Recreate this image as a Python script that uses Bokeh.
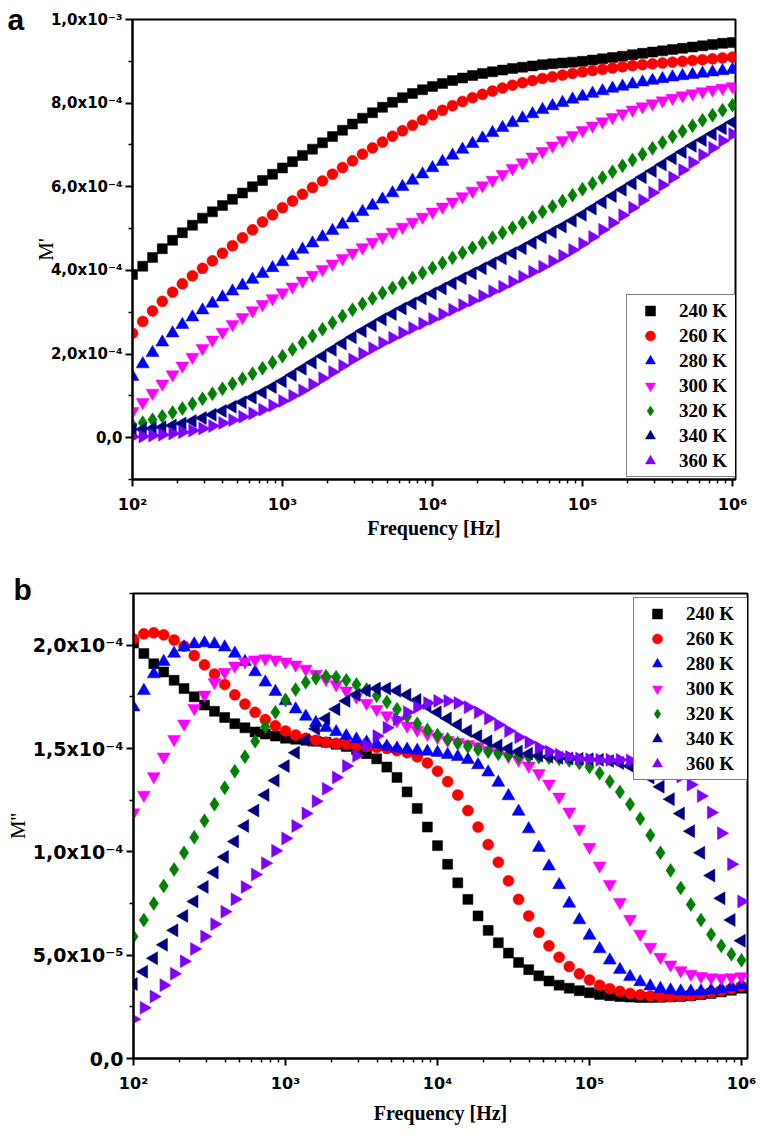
import math
from bokeh.plotting import figure
from bokeh.models import ColumnDataSource, FixedTicker, Legend, LegendItem
from bokeh.embed import file_html
from bokeh.resources import INLINE

# ---------------- data ----------------
FREQ = [100, 117, 136, 158, 185, 215, 251, 293, 341, 398, 464, 541, 631, 736, 858,
        1000, 1166, 1359, 1585, 1848, 2154, 2512, 2929, 3415, 3981, 4642, 5412, 6310, 7356, 8577,
        10000, 11659, 13594, 15849, 18478, 21544, 25119, 29286, 34146, 39811, 46416, 54117, 63096, 73564, 85770,
        100000, 116591, 135936, 158489, 184785, 215443, 251189, 292864, 341455, 398107, 464159, 541170, 630957, 735642, 857696,
        1000000]

TEMPS = ["240 K", "260 K", "280 K", "300 K", "320 K", "340 K", "360 K"]

# M' (units of 1e-4)
MA_240 = [3.90, 4.10, 4.31, 4.52, 4.72, 4.90, 5.08, 5.25, 5.40, 5.55, 5.70, 5.85, 6.00, 6.15, 6.30, 6.45, 6.60, 6.75, 6.90, 7.05,
          7.20, 7.35, 7.50, 7.64, 7.77, 7.90, 8.02, 8.13, 8.23, 8.32, 8.40, 8.47, 8.54, 8.60, 8.66, 8.71, 8.75, 8.79, 8.83, 8.86,
          8.89, 8.92, 8.94, 8.96, 8.98, 9.00, 9.03, 9.06, 9.09, 9.12, 9.16, 9.19, 9.22, 9.25, 9.28, 9.31, 9.34, 9.37, 9.40, 9.43, 9.45]
MA_260 = [2.50, 2.78, 3.03, 3.26, 3.48, 3.68, 3.87, 4.05, 4.23, 4.41, 4.59, 4.78, 4.97, 5.16, 5.33, 5.50, 5.66, 5.82, 5.98, 6.14,
          6.30, 6.46, 6.62, 6.78, 6.93, 7.07, 7.21, 7.34, 7.47, 7.60, 7.72, 7.83, 7.94, 8.04, 8.13, 8.21, 8.29, 8.36, 8.43, 8.49,
          8.54, 8.59, 8.63, 8.67, 8.71, 8.75, 8.78, 8.81, 8.84, 8.87, 8.90, 8.92, 8.94, 8.96, 8.98, 9.00, 9.02, 9.04, 9.06, 9.08, 9.10]
MA_280 = [1.46, 1.76, 2.03, 2.28, 2.50, 2.70, 2.88, 3.05, 3.21, 3.36, 3.50, 3.64, 3.78, 3.92, 4.06, 4.20, 4.35, 4.50, 4.65, 4.80,
          4.95, 5.10, 5.25, 5.40, 5.55, 5.70, 5.85, 6.00, 6.15, 6.30, 6.45, 6.60, 6.75, 6.89, 7.03, 7.16, 7.29, 7.41, 7.53, 7.64,
          7.74, 7.84, 7.93, 8.01, 8.09, 8.16, 8.23, 8.29, 8.35, 8.40, 8.45, 8.50, 8.54, 8.58, 8.62, 8.65, 8.68, 8.71, 8.74, 8.77, 8.80]
MA_300 = [0.63, 0.85, 1.07, 1.29, 1.51, 1.72, 1.93, 2.14, 2.34, 2.53, 2.71, 2.88, 3.04, 3.19, 3.33, 3.47, 3.61, 3.75, 3.89, 4.03,
          4.16, 4.29, 4.42, 4.55, 4.68, 4.80, 4.92, 5.04, 5.16, 5.28, 5.40, 5.52, 5.64, 5.77, 5.90, 6.03, 6.16, 6.30, 6.44, 6.58,
          6.72, 6.85, 6.98, 7.11, 7.23, 7.35, 7.46, 7.56, 7.66, 7.75, 7.84, 7.92, 7.99, 8.06, 8.12, 8.18, 8.23, 8.28, 8.32, 8.36, 8.40]
MA_320 = [0.30, 0.36, 0.43, 0.51, 0.60, 0.70, 0.81, 0.93, 1.05, 1.17, 1.29, 1.41, 1.53, 1.66, 1.80, 1.95, 2.11, 2.27, 2.43, 2.59,
          2.75, 2.91, 3.06, 3.20, 3.33, 3.46, 3.58, 3.70, 3.82, 3.94, 4.06, 4.18, 4.30, 4.42, 4.54, 4.66, 4.78, 4.90, 5.02, 5.14,
          5.27, 5.40, 5.53, 5.66, 5.80, 5.94, 6.08, 6.22, 6.36, 6.50, 6.64, 6.78, 6.92, 7.06, 7.20, 7.33, 7.46, 7.59, 7.71, 7.83, 7.95]
MA_340 = [0.19, 0.20, 0.22, 0.25, 0.29, 0.34, 0.40, 0.47, 0.55, 0.64, 0.74, 0.85, 0.96, 1.08, 1.21, 1.35, 1.50, 1.65, 1.80, 1.95,
          2.10, 2.25, 2.40, 2.55, 2.69, 2.83, 2.96, 3.09, 3.21, 3.33, 3.45, 3.57, 3.69, 3.81, 3.93, 4.05, 4.17, 4.29, 4.41, 4.53,
          4.66, 4.79, 4.92, 5.05, 5.19, 5.33, 5.48, 5.63, 5.78, 5.93, 6.08, 6.23, 6.38, 6.53, 6.68, 6.83, 6.98, 7.12, 7.26, 7.40, 7.54]
MA_360 = [0.02, 0.03, 0.05, 0.07, 0.10, 0.13, 0.17, 0.22, 0.28, 0.35, 0.42, 0.50, 0.58, 0.67, 0.77, 0.88, 1.00, 1.13, 1.27, 1.42,
          1.57, 1.72, 1.87, 2.01, 2.14, 2.27, 2.39, 2.51, 2.62, 2.73, 2.84, 2.95, 3.06, 3.17, 3.28, 3.39, 3.50, 3.61, 3.73, 3.85,
          3.97, 4.09, 4.22, 4.35, 4.49, 4.64, 4.80, 4.97, 5.14, 5.32, 5.50, 5.68, 5.86, 6.04, 6.22, 6.40, 6.58, 6.76, 6.93, 7.10, 7.26]

# M'' (units of 1e-5)
MB_240 = [20.1, 19.6, 19.1, 18.7, 18.3, 17.9, 17.5, 17.1, 16.8, 16.5, 16.2, 16.0, 15.8, 15.7, 15.6, 15.5, 15.45, 15.4, 15.35, 15.3,
          15.2, 15.1, 14.95, 14.75, 14.5, 14.1, 13.6, 12.9, 12.1, 11.2, 10.3, 9.4, 8.5, 7.7, 6.9, 6.2, 5.6, 5.1, 4.65, 4.3,
          4.0, 3.75, 3.55, 3.4, 3.28, 3.18, 3.1, 3.04, 3.0, 2.97, 2.95, 2.95, 2.96, 2.98, 3.0, 3.04, 3.09, 3.15, 3.22, 3.3, 3.4]
MB_260 = [20.3, 20.55, 20.6, 20.5, 20.25, 19.95, 19.5, 19.05, 18.6, 18.1, 17.6, 17.15, 16.75, 16.4, 16.1, 15.85, 15.65, 15.5, 15.4, 15.3,
          15.25, 15.2, 15.15, 15.1, 15.05, 15.0, 14.9, 14.8, 14.6, 14.3, 13.9, 13.4, 12.75, 12.0, 11.2, 10.35, 9.5, 8.6, 7.7, 6.9,
          6.1, 5.45, 4.9, 4.45, 4.1, 3.8, 3.55, 3.38, 3.25, 3.15, 3.08, 3.03, 3.0, 3.0, 3.02, 3.06, 3.12, 3.2, 3.28, 3.38, 3.5]
MB_280 = [17.0, 17.8, 18.6, 19.2, 19.6, 19.9, 20.05, 20.1, 20.05, 19.9, 19.6, 19.2, 18.7, 18.2, 17.75, 17.3, 16.9, 16.55, 16.25, 16.0,
          15.8, 15.6, 15.45, 15.3, 15.2, 15.1, 15.0, 14.95, 14.9, 14.85, 14.8, 14.7, 14.6, 14.45, 14.2, 13.85, 13.35, 12.7, 11.95, 11.1,
          10.2, 9.3, 8.4, 7.5, 6.7, 5.95, 5.3, 4.75, 4.3, 3.95, 3.7, 3.5, 3.38, 3.3, 3.25, 3.24, 3.25, 3.3, 3.36, 3.45, 3.55]
MB_300 = [11.9, 12.75, 13.65, 14.6, 15.45, 16.2, 16.95, 17.6, 18.2, 18.7, 19.0, 19.2, 19.3, 19.35, 19.3, 19.2, 19.05, 18.85, 18.6, 18.35,
          18.1, 17.8, 17.5, 17.2, 16.9, 16.6, 16.35, 16.1, 15.9, 15.7, 15.55, 15.4, 15.3, 15.2, 15.1, 14.92, 14.8, 14.64, 14.45, 14.17,
          13.8, 13.29, 12.66, 11.94, 11.11, 10.23, 9.33, 8.43, 7.56, 6.75, 6.03, 5.4, 4.91, 4.54, 4.26, 4.09, 3.98, 3.92, 3.9, 3.92, 3.97]
MB_320 = [5.9, 6.7, 7.5, 8.35, 9.15, 9.95, 10.7, 11.5, 12.3, 13.1, 13.9, 14.6, 15.35, 16.05, 16.75, 17.35, 17.85, 18.2, 18.4, 18.5,
          18.45, 18.3, 18.1, 17.85, 17.55, 17.25, 16.9, 16.55, 16.2, 15.9, 15.65, 15.45, 15.25, 15.1, 14.95, 14.85, 14.75, 14.68, 14.63, 14.6,
          14.58, 14.55, 14.5, 14.42, 14.3, 14.1, 13.8, 13.4, 12.9, 12.3, 11.6, 10.8, 9.95, 9.1, 8.25, 7.45, 6.7, 6.0, 5.45, 5.05, 4.75]
MB_340 = [3.6, 4.2, 4.85, 5.5, 6.2, 6.9, 7.6, 8.3, 9.0, 9.75, 10.5, 11.25, 12.0, 12.75, 13.45, 14.15, 14.8, 15.4, 15.95, 16.45,
          16.9, 17.3, 17.6, 17.8, 17.9, 17.9, 17.8, 17.6, 17.35, 17.05, 16.75, 16.45, 16.15, 15.85, 15.6, 15.35, 15.15, 15.0, 14.85, 14.75,
          14.65, 14.6, 14.55, 14.52, 14.5, 14.48, 14.45, 14.4, 14.3, 14.15, 13.95, 13.6, 13.15, 12.55, 11.85, 11.0, 9.95, 8.85, 7.75, 6.7, 5.7]
MB_360 = [1.9, 2.45, 3.0, 3.55, 4.1, 4.7, 5.3, 5.9, 6.5, 7.1, 7.7, 8.3, 8.9, 9.45, 10.05, 10.65, 11.25, 11.85, 12.45, 13.05,
          13.6, 14.15, 14.65, 15.15, 15.6, 16.0, 16.4, 16.75, 17.0, 17.2, 17.3, 17.3, 17.2, 17.0, 16.75, 16.45, 16.15, 15.85, 15.55, 15.3,
          15.05, 14.85, 14.7, 14.6, 14.52, 14.48, 14.45, 14.45, 14.45, 14.42, 14.38, 14.3, 14.15, 13.95, 13.65, 13.25, 12.7, 11.9, 10.9, 9.4, 7.6]

X_TICKS = [100, 1000, 10000, 100000, 1000000]
X_TICK_LABELS = ["10²", "10³", "10⁴", "10⁵", "10⁶"]
X_MINOR = [m * d for d in (100, 1000, 10000, 100000) for m in range(2, 10)]

YA_TICKS = [0, 2, 4, 6, 8, 10]
YA_TICK_LABELS = ["0,0", "2,0x10⁻⁴", "4,0x10⁻⁴", "6,0x10⁻⁴", "8,0x10⁻⁴", "1,0x10⁻³"]
YA_MINOR = [-1, 1, 3, 5, 7, 9]

YB_TICKS = [0, 5, 10, 15, 20]
YB_TICK_LABELS = ["0,0", "5,0x10⁻⁵", "1,0x10⁻⁴", "1,5x10⁻⁴", "2,0x10⁻⁴"]
YB_MINOR = [2.5, 7.5, 12.5, 17.5, 22.5]

# ---------------- styles ----------------
COLORS = ["#000000", "#ff0000", "#0000ff", "#ff00ff", "#008000", "#000080", "#8000ff"]
MARKERS = [("square", 0.0, 10), ("circle", 0.0, 11), ("triangle", 0.0, 13), ("inverted_triangle", 0.0, 13),
           ("diamond", 0.0, 14), ("triangle", math.pi / 2, 13), ("triangle", -math.pi / 2, 13)]


def style(p, ylabel, ytick_size, xstand, ystand, ticks_y, labels_y, minor_y):
    p.xgrid.visible = False
    p.ygrid.visible = False
    p.outline_line_color = "black"
    p.outline_line_width = 2
    p.outline_line_alpha = 1
    p.background_fill_color = "white"
    p.border_fill_color = "white"
    xa = p.xaxis[0]
    ya = p.yaxis[0]
    xa.ticker = FixedTicker(ticks=X_TICKS, minor_ticks=X_MINOR)
    xa.major_label_overrides = {t: l for t, l in zip(X_TICKS, X_TICK_LABELS)}
    ya.ticker = FixedTicker(ticks=ticks_y, minor_ticks=minor_y)
    ya.major_label_overrides = {t: l for t, l in zip(ticks_y, labels_y)}
    for ax in (xa, ya):
        ax.axis_line_width = 2
        ax.axis_line_color = "black"
        ax.major_tick_line_width = 2
        ax.minor_tick_line_width = 1.5
        ax.major_tick_in = 0
        ax.major_tick_out = 7
        ax.minor_tick_in = 0
        ax.minor_tick_out = 4
        ax.major_label_text_font = "DejaVu Sans"
        ax.major_label_text_font_style = "bold"
        ax.major_label_text_color = "black"
        ax.axis_label_text_color = "black"
    xa.major_label_text_font_size = "16px"
    xa.major_label_standoff = 8
    xa.axis_label = "Frequency [Hz]"
    xa.axis_label_text_font = "Liberation Serif"
    xa.axis_label_text_font_style = "bold"
    xa.axis_label_text_font_size = "20px"
    xa.axis_label_standoff = xstand
    ya.major_label_text_font_size = ytick_size
    ya.major_label_standoff = 3
    ya.axis_label = ylabel
    ya.axis_label_text_font = "Liberation Serif"
    ya.axis_label_text_font_style = "normal"
    ya.axis_label_text_font_size = "21px"
    ya.axis_label_standoff = ystand


def add_series(p, series, loc):
    items = []
    for name, ys, color, (mk, ang, sz) in zip(TEMPS, series, COLORS, MARKERS):
        src = ColumnDataSource(dict(f=FREQ, v=ys))
        r = p.scatter("f", "v", source=src, marker=mk, angle=ang, size=sz,
                      fill_color=color, line_color=color, line_width=0.5)
        items.append(LegendItem(label=name, renderers=[r]))
    leg = Legend(items=items, location=loc, border_line_color="black", border_line_width=1,
                 background_fill_color="white", background_fill_alpha=1,
                 padding=3, margin=0, spacing=0, glyph_width=40, glyph_height=25,
                 label_height=25, label_width=58, label_standoff=9,
                 label_text_font="Liberation Serif", label_text_font_style="bold",
                 label_text_font_size="19px", label_text_color="black")
    p.add_layout(leg)


def letter(p, text, offset, standoff):
    t = p.title
    t.text = text
    t.align = "left"
    t.vertical_align = "bottom"
    t.offset = offset
    t.standoff = standoff
    t.text_font = "Liberation Sans"
    t.text_font_style = "bold"
    t.text_font_size = "30px"
    t.text_color = "black"


pa = figure(width=758, height=559, x_axis_type="log", x_range=(100, 1.047e6), y_range=(-1, 10),
            min_border_left=132, min_border_right=23, min_border_top=19, min_border_bottom=80,
            output_backend="svg", toolbar_location=None)
style(pa, "M'", "15px", 0, -10, YA_TICKS, YA_TICK_LABELS, YA_MINOR)
add_series(pa, [MA_240, MA_260, MA_280, MA_300, MA_320, MA_340, MA_360], (494, 2))
letter(pa, "a", -125, -32)

pb = figure(width=760, height=567, x_axis_type="log", x_range=(100, 1.095e6), y_range=(0, 22.5),
            min_border_left=133, min_border_right=13, min_border_top=34, min_border_bottom=66,
            output_backend="svg", toolbar_location=None)
style(pb, "M''", "19px", 6, 0, YB_TICKS, YB_TICK_LABELS, YB_MINOR)
add_series(pb, [MB_240, MB_260, MB_280, MB_300, MB_320, MB_340, MB_360], (500, 278))
letter(pb, "b", -120, -25)

open("out.html", "w").write(file_html([pa, pb], INLINE))
